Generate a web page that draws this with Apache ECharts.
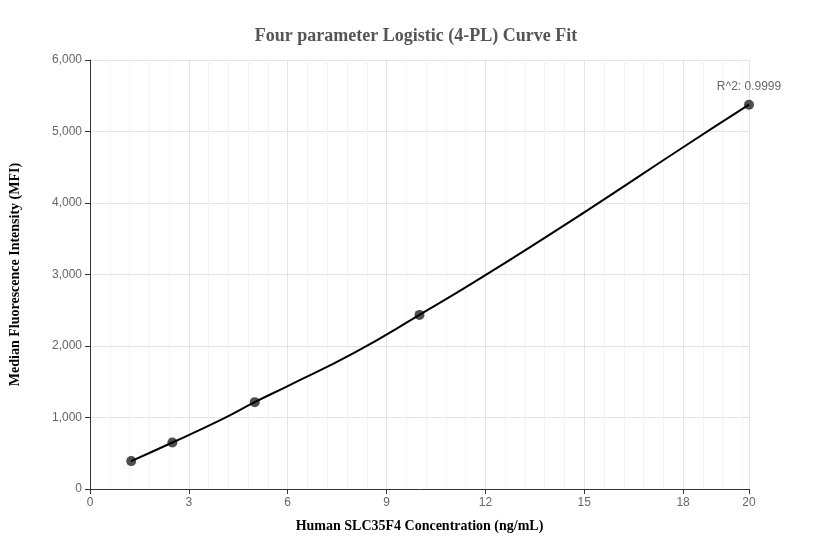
<!DOCTYPE html>
<html>
<head>
<meta charset="utf-8">
<script src="https://cdn.jsdelivr.net/npm/echarts@6/dist/echarts.min.js"></script>
<style>html,body{margin:0;padding:0;background:#fff}#chart{width:832px;height:560px}</style>
</head>
<body>
<div id="chart"></div>
<script>
// concentrations (ng/mL) and measured MFI
var concentrations = [1.25, 2.5, 5, 10, 20];
var mfiValues = [390, 650, 1215, 2435, 5375];
// fitted curve
var curveX = [1.25, 2.5, 4, 5, 6, 8, 10, 12, 15, 18, 20];
var curveY = [390, 650, 975, 1215, 1440, 1900, 2435, 2990, 3870, 4780, 5375];
var rSquared = 'R^2: 0.9999';

var chart = echarts.init(document.getElementById('chart'));
chart.setOption({
    animation: false,
    title: {
        text: 'Four parameter Logistic (4-PL) Curve Fit',
        left: 'center',
        top: 22,
        textStyle: { fontFamily: 'Liberation Serif', fontSize: 18, fontWeight: 'bold', color: '#555' }
    },
    grid: { left: 83, right: 83, top: 60, bottom: 71 },
    xAxis: {
        type: 'value',
        min: 0, max: 20, interval: 3,
        name: 'Human SLC35F4 Concentration (ng/mL)',
        nameLocation: 'middle',
        nameGap: 30,
        nameTextStyle: { fontFamily: 'Liberation Serif', fontSize: 14, fontWeight: 'bold', color: '#000' },
        axisLine: { lineStyle: { color: '#333' } },
        axisTick: { show: true, lineStyle: { color: '#333' } },
        axisLabel: { color: '#666', fontSize: 12, showMaxLabel: true },
        splitLine: { lineStyle: { color: '#e3e3e3' } },
        minorTick: { show: false, splitNumber: 5 },
        minorSplitLine: { show: true, lineStyle: { color: '#f3f3f3' } }
    },
    yAxis: {
        type: 'value',
        min: 0, max: 6000, interval: 1000,
        name: 'Median Fluorescence Intensity (MFI)',
        nameLocation: 'middle',
        nameGap: 68,
        nameTextStyle: { fontFamily: 'Liberation Serif', fontSize: 14, fontWeight: 'bold', color: '#000' },
        axisLine: { show: true, lineStyle: { color: '#333' } },
        axisTick: { show: true, lineStyle: { color: '#333' } },
        axisLabel: { color: '#666', fontSize: 12, formatter: function (v) { return v.toLocaleString('en-US'); } },
        splitLine: { lineStyle: { color: '#e3e3e3' } }
    },
    series: [{
        type: 'line',
        smooth: true,
        showSymbol: false,
        lineStyle: { color: '#000', width: 2 },
        data: curveX.map(function (x, i) { return [x, curveY[i]]; })
    }, {
        type: 'scatter',
        symbolSize: 10,
        itemStyle: { color: '#222' },
        data: concentrations.map(function (x, i) {
            var p = { value: [x, mfiValues[i]] };
            if (i === concentrations.length - 1) {
                p.label = { show: true, position: 'top', formatter: rSquared, color: '#444', fontSize: 12, offset: [0, -2] };
            }
            return p;
        })
    }]
});
</script>
</body>
</html>
